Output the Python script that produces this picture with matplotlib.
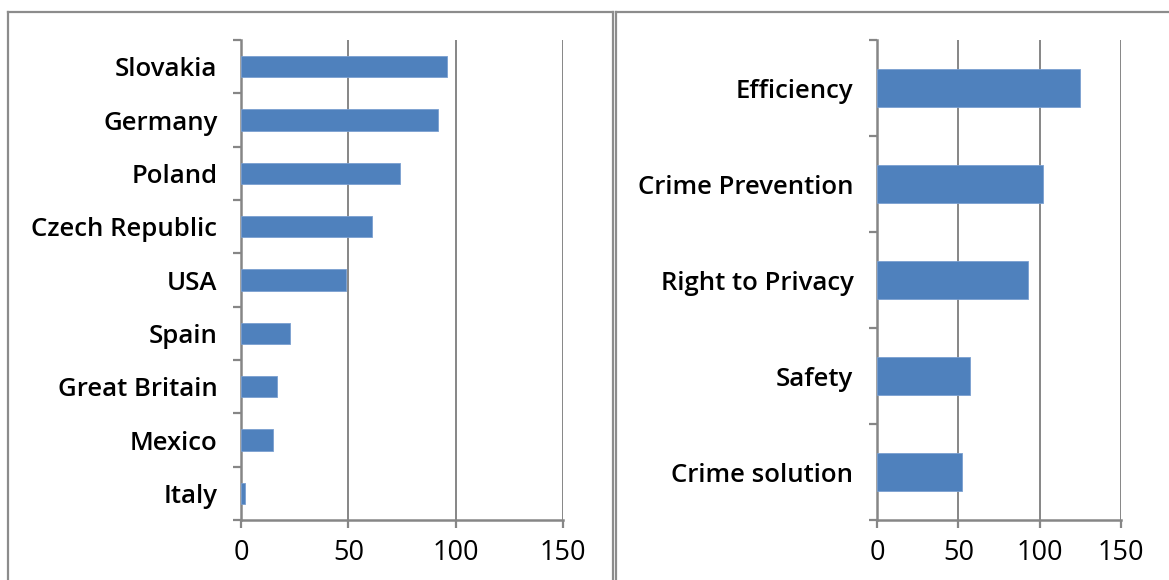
import matplotlib.pyplot as plt
from matplotlib.lines import Line2D
import numpy as np

W, H = 1169, 580

# survey data
countries = ["Slovakia", "Germany", "Poland", "Czech Republic", "USA",
             "Spain", "Great Britain", "Mexico", "Italy"]
country_counts = [96, 92, 74, 61, 49, 23, 17, 15, 2]

aspects = ["Efficiency", "Crime Prevention", "Right to Privacy", "Safety",
           "Crime solution"]
aspect_counts = [125, 102, 93, 57, 52]

x_ticks = [0, 50, 100, 150]

bar_color = "#4F81BD"
axis_color = "#868686"

plt.rcParams['font.family'] = ['Open Sans', 'DejaVu Sans']

fig = plt.figure(figsize=(W / 100, H / 100), dpi=100)


def px(x0, y0, x1, y1):
    # pixel box -> figure fraction [left, bottom, width, height]
    return [x0 / W, 1 - y1 / H, (x1 - x0) / W, (y1 - y0) / H]


def hbar_panel(rect, labels, values):
    ax = fig.add_axes(rect)
    n = len(labels)
    pos = np.arange(n)[::-1]
    ax.barh(pos, values, height=0.4, color=bar_color,
            edgecolor="#7a9fd0", linewidth=0.6, zorder=3)
    ax.set_xlim(0, 150)
    ax.set_ylim(-0.5, n - 0.5)
    ax.set_xticks(x_ticks)
    ax.set_xticklabels([str(t) for t in x_ticks], fontsize=19.5)
    # category labels sit between the boundary ticks
    ax.set_yticks(pos)
    ax.set_yticklabels(labels, fontsize=18.5, fontweight='semibold')
    ax.tick_params(axis='y', length=0, pad=17)
    ax.set_yticks(np.arange(n + 1) - 0.5, minor=True)
    ax.tick_params(axis='y', which='minor', length=6, width=1.6,
                   color=axis_color)
    ax.tick_params(axis='x', length=6, width=1.6, color=axis_color, pad=8)
    for s in ['top', 'right']:
        ax.spines[s].set_visible(False)
    for s in ['left', 'bottom']:
        ax.spines[s].set_color(axis_color)
        ax.spines[s].set_linewidth(1.8)
    ax.grid(axis='x', color=axis_color, linewidth=1.4, zorder=0)
    ax.set_axisbelow(True)
    return ax


hbar_panel(px(241, 40, 563, 520), countries, country_counts)
hbar_panel(px(877, 40, 1121, 520), aspects, aspect_counts)

# chart area borders
frame_kw = dict(color="#8c8c8c", linewidth=1.6, transform=fig.transFigure)
fx = lambda x: x / W
fy = lambda y: 1 - y / H
fig.add_artist(Line2D([fx(8), fx(8)], [fy(12), fy(600)], **frame_kw))
fig.add_artist(Line2D([fx(8), fx(613)], [fy(12), fy(12)], **frame_kw))
fig.add_artist(Line2D([fx(613), fx(613)], [fy(12), fy(600)], **frame_kw))
fig.add_artist(Line2D([fx(616), fx(616)], [fy(12), fy(600)], **frame_kw))
fig.add_artist(Line2D([fx(616), fx(1175)], [fy(12), fy(12)], **frame_kw))

fig.savefig("out.png", dpi=100)
